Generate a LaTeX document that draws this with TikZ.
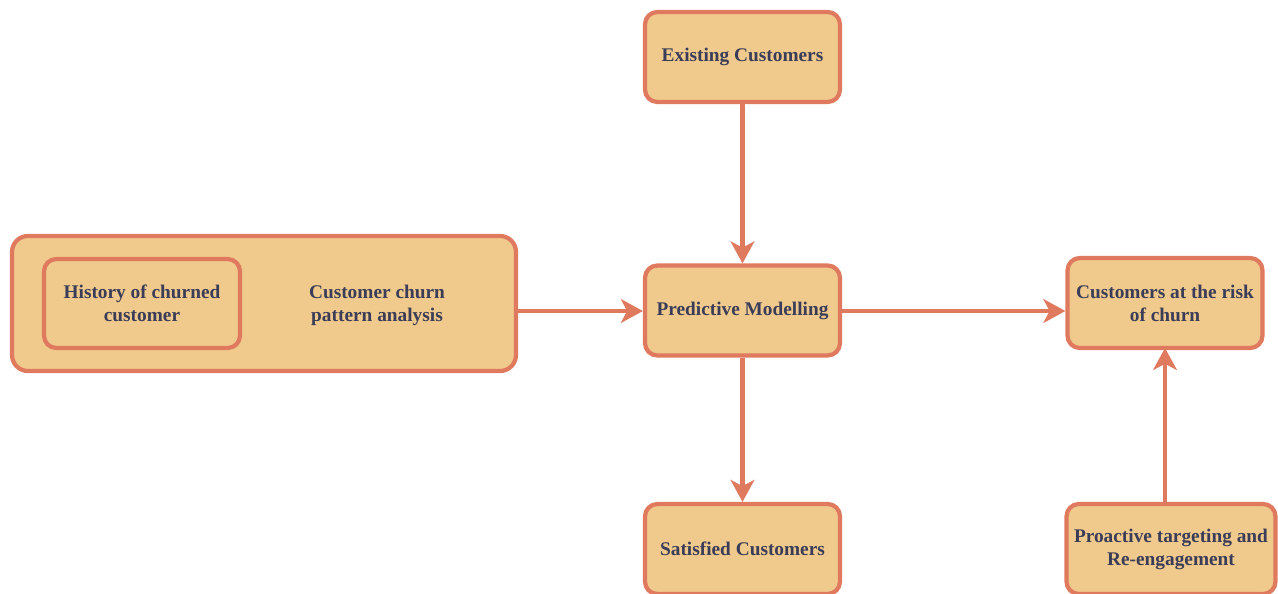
\documentclass[tikz,border=0pt]{standalone}
\usepackage{fontspec}
\setmainfont{Liberation Serif}
\usetikzlibrary{arrows.meta}

\definecolor{boxfill}{HTML}{F0CA8C}
\definecolor{boxline}{HTML}{E07A5F}
\definecolor{boxtext}{HTML}{3A3C58}

\tikzset{
  stage/.style={draw=boxline, fill=boxfill, line width=2.4pt, rounded corners=7pt,
    text=boxtext, font=\fontsize{11}{13}\selectfont\bfseries, align=center,
    minimum width=3.9cm, minimum height=1.8cm, inner sep=2pt},
  flow/.style={draw=boxline, line width=2.7pt,
    -{Stealth[length=12.5pt, width=13.5pt, inset=3.5pt]}}
}

\begin{document}
\begin{tikzpicture}[x=0.02cm, y=-0.02cm]
  \useasboundingbox (0,0) rectangle (1278,593);

  % outer analysis box with the history box inside
  \node[stage, minimum width=10.08cm, minimum height=2.7cm, rounded corners=9pt] (analysis) at (264,303.5) {};
  \node[stage, minimum width=3.92cm, minimum height=1.78cm] (history) at (142,303.5) {History of churned\\customer};
  \node[text=boxtext, font=\fontsize{11}{13}\selectfont\bfseries, align=center] (pattern) at (377,305) {Customer churn\\pattern analysis};

  \node[stage] (existing) at (742.5,57) {Existing Customers};
  \node[stage] (model) at (742.5,310.5) {Predictive Modelling};
  \node[stage] (satisfied) at (742.5,549) {Satisfied Customers};
  \node[stage] (risk) at (1165,303) {Customers at the risk\\of churn};
  \node[stage, minimum width=4.18cm] (proactive) at (1171,549) {Proactive targeting and\\Re-engagement};

  \coordinate (mr) at (model.east |- 0,311);
  \coordinate (rl) at (risk.west |- 0,311);
  \coordinate (al) at (analysis.east |- 0,311);
  \coordinate (ml) at (model.west |- 0,311);
  \coordinate (pt) at (1165,505);
  \coordinate (rb) at (1165,348);

  \draw[flow] (existing) -- (model);
  \draw[flow] (al) -- (ml);
  \draw[flow] (mr) -- (rl);
  \draw[flow] (model) -- (satisfied);
  \draw[flow] (pt) -- (rb);
\end{tikzpicture}
\end{document}
